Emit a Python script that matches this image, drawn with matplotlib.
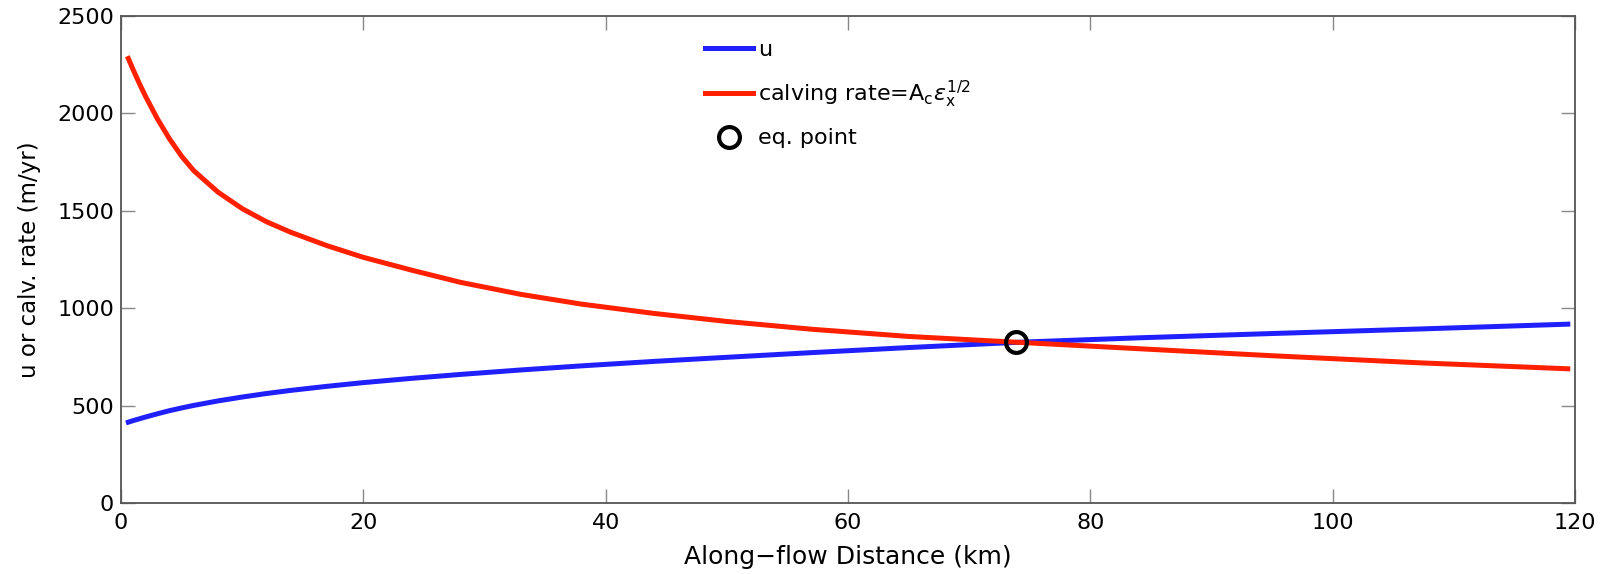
import matplotlib
matplotlib.use("Agg")
import matplotlib.pyplot as plt

plt.rcParams['font.family'] = ['DejaVu Sans']
plt.rcParams['mathtext.fontset'] = 'dejavusans'

# Along-flow distance (km)
distance_km = [0.6, 1.0, 1.5, 2.0, 3.0, 4.0, 5.0, 6.0, 8.0, 10.0, 12.0, 14.0,
               17.0, 20.0, 24.0, 28.0, 33.0, 38.0, 44.0, 50.0, 57.0, 65.0,
               74.0, 84.0, 95.0, 107.0, 119.4]
# velocity u (m/yr)
u_vals = [415, 423, 432, 441, 458, 474, 488, 501, 524, 544, 562, 578,
          599, 618, 640, 660, 683, 704, 727, 748, 772, 798,
          825, 848, 870, 893, 918]
# calving rate (m/yr)
calving_vals = [2282, 2224, 2155, 2090, 1972, 1869, 1780, 1706, 1596, 1511, 1444, 1390,
                1321, 1261, 1195, 1133, 1071, 1021, 973, 932, 892, 855,
                825, 792, 756, 720, 689]
eq_x = [73.9]
eq_y = [825]

fig = plt.figure(figsize=(16.12, 5.74), dpi=100)
ax = fig.add_axes([0.0751, 0.1237, 0.9020, 0.8484])

lu, = ax.plot(distance_km, u_vals, color='#2020ff', lw=3.6, label='u',
              solid_joinstyle='round')
lc, = ax.plot(distance_km, calving_vals, color='#ff2000', lw=3.6,
              solid_joinstyle='round',
              label=r'calving rate=A$_{\rm c}\epsilon_{\rm x}^{1/2}$')
le, = ax.plot(eq_x, eq_y, 'o', mfc='none', mec='black', ms=15, mew=3.0,
              label='eq. point')

ax.set_xlim(0, 120)
ax.set_ylim(0, 2500)
ax.set_xticks(range(0, 121, 20))
ax.set_yticks(range(0, 2501, 500))
ax.tick_params(direction='in', length=10, width=1, color='#888888',
               top=True, right=True, labelsize=16)
ax.tick_params(axis='x', pad=7)
ax.tick_params(axis='y', pad=5)
for s in ax.spines.values():
    s.set_color('#555555')
    s.set_linewidth(1.3)

ax.set_xlabel('Along\u2212flow Distance (km)', fontsize=18, labelpad=9)
ax.set_ylabel('u or calv. rate (m/yr)', fontsize=16.5, labelpad=12)

leg = ax.legend(handles=[lu, lc, le], loc='upper left',
                bbox_to_anchor=(0.4017, 0.951), frameon=False, fontsize=16,
                handlelength=2.15, handletextpad=0.25, labelspacing=0.84,
                borderaxespad=0, borderpad=0)

fig.savefig('out.png', dpi=100)
